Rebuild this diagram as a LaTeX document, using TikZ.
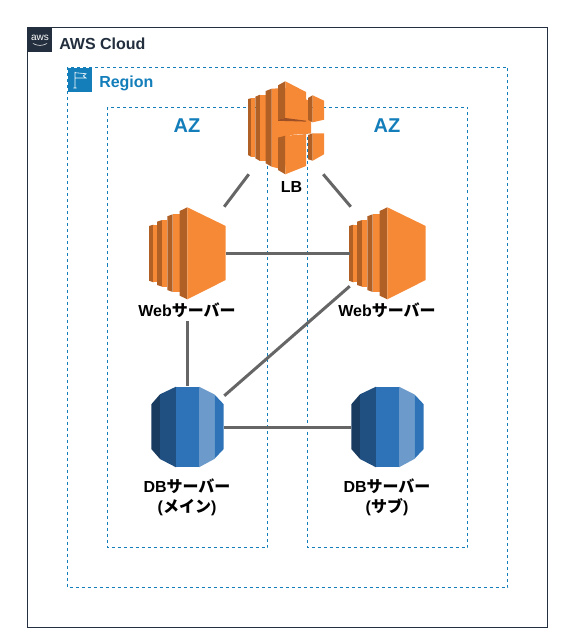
\documentclass[tikz,border=0pt]{standalone}
\usepackage{fontspec}
\setmainfont{Liberation Sans}
\newfontfamily\cjk{Noto Sans CJK JP}
\definecolor{cloudc}{HTML}{232F3E}
\definecolor{regionc}{HTML}{147EBA}
\definecolor{linkc}{HTML}{666666}
\definecolor{ora}{HTML}{F68936}
\definecolor{orad}{HTML}{9D5025}
\definecolor{oram}{HTML}{B05F25}
\definecolor{dba}{HTML}{1A3B60}
\definecolor{dbb}{HTML}{205081}
\definecolor{dbc}{HTML}{2E73B8}
\definecolor{dbd}{HTML}{6C9ACB}
\tikzset{
  x=0.75pt,y=-0.75pt,
  boxdash/.style={draw=regionc,line width=0.75pt,dash pattern=on 2.25pt off 2.25pt},
  link/.style={draw=linkc,line width=2.25pt},
  lab/.style={font=\bfseries\fontsize{12pt}{15pt}\selectfont,align=center,inner sep=0pt,text=black},
  head/.style={font=\bfseries\fontsize{15pt}{18pt}\selectfont,text=regionc,inner sep=0pt},
  port/.style={inner sep=0pt,minimum size=0pt},
}
\newcommand{\ecIcon}[1]{%
  \begin{scope}[shift={(#1,0)}]
    \fill[oram] (149,226) -- (153.3,224.7) -- (153.3,282.3) -- (149,280.7) -- cycle;
    \fill[ora] (153.3,224.7) -- (157,224.7) -- (157,282.3) -- (153.3,282.3) -- cycle;
    \fill[oram] (157,221.7) -- (162.3,220) -- (162.3,286.7) -- (157,285) -- cycle;
    \fill[ora] (162.3,220) -- (167.3,220) -- (167.3,286.7) -- (162.3,286.7) -- cycle;
    \fill[oram] (167.3,216.3) -- (172.7,214.3) -- (172.7,292) -- (167.3,290) -- cycle;
    \fill[ora] (172.7,214.3) -- (179.7,214.3) -- (179.7,292) -- (172.7,292) -- cycle;
    \fill[oram] (179.7,211) -- (187.3,207.3) -- (187.3,299.3) -- (179.7,295.7) -- cycle;
    \fill[ora] (187.3,207.3) -- (225.7,226) -- (225.7,280) -- (187.3,299.3) -- cycle;
  \end{scope}
}
\newcommand{\dbIcon}[1]{%
  \begin{scope}[shift={(#1,0)}]
    \fill[dba] (160,394.3) -- (151.3,404.3) -- (151.3,449) -- (160,459) -- cycle;
    \fill[dbb] (160,394.3) -- (176,386.7) -- (176,467.3) -- (160,459) -- cycle;
    \fill[dbc] (176,386.7) rectangle (199,467.3);
    \fill[dbd] (199,386.7) -- (214.3,394.3) -- (214.3,459) -- (199,467.3) -- cycle;
    \fill[dbc] (214.3,394.3) -- (223.7,404.3) -- (223.7,449) -- (214.3,459) -- cycle;
  \end{scope}
}
\begin{document}
\begin{tikzpicture}
\useasboundingbox (0,0) rectangle (561,641);
% containers
\draw[cloudc,line width=0.75pt] (27.5,27.5) rectangle (547.5,627.5);
\draw[boxdash] (67.5,67.5) rectangle (507.5,587.5);
\draw[boxdash] (107.5,107.5) rectangle (267.5,547.5);
\draw[boxdash] (307.5,107.5) rectangle (467.5,547.5);
% aws badge
\fill[cloudc] (28,28) rectangle (52,52);
\node[inner sep=0pt,text=white,font=\fontsize{7.5pt}{8pt}\selectfont] (awslogo) at (40,37.5) {aws};
\draw[white,line width=0.4pt] (33,43.5) .. controls (37,46) and (43,46) .. (47,43.5);
\node[anchor=west,inner sep=0pt,text=cloudc,font=\bfseries\fontsize{12pt}{14pt}\selectfont] (cloudt) at (59,43.5) {AWS Cloud};
% region badge
\fill[regionc] (68,68) rectangle (92,92);
\draw[white,line width=0.45pt] (75,72) -- (75,88) (73.3,88) -- (76.7,88)
  (75,72.7) -- (86,73.7) -- (83.3,76) -- (86,78) -- (75,78);
\node[anchor=west,inner sep=0pt,text=regionc,font=\bfseries\fontsize{12pt}{14pt}\selectfont] (regiont) at (99,83.5) {Region};
% AZ
\node[head] (azl) at (187,126) {AZ};
\node[head] (azr) at (387,126) {AZ};
% LB icon
\fill[ora] (271.7,88.7) -- (285,88) -- (311,102) -- (311,133.5) -- (290,135) -- (285,170) -- (271.7,166.7) -- cycle;
\fill[oram] (248,99) -- (251,98.3) -- (251,156.7) -- (248,155) -- cycle;
\fill[ora] (251,98.3) -- (255.3,98.3) -- (255.3,156.7) -- (251,156.7) -- cycle;
\fill[oram] (255.3,96.7) -- (260,94.7) -- (260,161) -- (255.3,158.3) -- cycle;
\fill[ora] (260,94.7) -- (265.7,94.7) -- (265.7,161) -- (260,161) -- cycle;
\fill[oram] (265.7,91) -- (271.7,88.7) -- (271.7,166.7) -- (265.7,163.3) -- cycle;
% upper block
\fill[oram] (278,85.3) -- (285.3,81.3) -- (285.3,118) -- (278,119.7) -- cycle;
\fill[ora] (285.3,81.3) -- (306,92) -- (306,120.7) -- (285.3,118) -- cycle;
\fill[orad] (278,119.7) -- (285.3,118) -- (306,120.7) -- (306,121.6) -- (278,120.8) -- cycle;
% upper small block
\fill[oram] (308,98) -- (312.7,95.3) -- (312.7,122.3) -- (308,120) -- cycle;
\fill[ora] (312.7,95.3) -- (324,100.7) -- (324,119.7) -- (312.7,122.3) -- cycle;
% lower block
\fill[orad] (278,137.7) -- (306,134.3) -- (306,135.3) -- (285.3,136.7) -- cycle;
\fill[oram] (278,137.7) -- (285.3,135.7) -- (285.3,174.3) -- (278,170) -- cycle;
\fill[ora] (285.3,135.7) -- (306,134.3) -- (306,166) -- (285.3,174.3) -- cycle;
% lower small block
\fill[oram] (308,135) -- (312.7,133.3) -- (312.7,160.7) -- (308,159.3) -- cycle;
\fill[ora] (312.7,133.3) -- (324,133.3) -- (324,154.3) -- (312.7,160.7) -- cycle;
% server icons
\ecIcon{0}
\ecIcon{200}
\dbIcon{0}
\dbIcon{200}
% named anchors
\node[port] (lbsw) at (249,174) {};
\node[port] (lbse) at (323,174) {};
\node[port] (weblne) at (224,207) {};
\node[port] (webrnw) at (351,207) {};
\node[port] (weble) at (226,253.5) {};
\node[port] (webrw) at (350,253.5) {};
\node[port] (webls) at (187.5,321) {};
\node[port] (webrsw) at (350,286) {};
\node[port] (dbln) at (187.5,386) {};
\node[port] (dblne) at (224,396) {};
\node[port] (dble) at (224,427) {};
\node[port] (dbrw) at (351,427) {};
% connectors
\draw[link] (lbsw) -- (weblne);
\draw[link] (lbse) -- (webrnw);
\draw[link] (weble) -- (webrw);
\draw[link] (webls) -- (dbln);
\draw[link] (webrsw) -- (dblne);
\draw[link] (dble) -- (dbrw);
% labels
\node[lab] (lbt) at (291.5,187) {LB};
\node[lab] (webt1) at (187,310) {Web{\cjk サーバー}};
\node[lab] (webt2) at (387,310) {Web{\cjk サーバー}};
\node[lab] (dbt1) at (187,497.5) {DB{\cjk サーバー}\\({\cjk メイン})};
\node[lab] (dbt2) at (387,497.5) {DB{\cjk サーバー}\\({\cjk サブ})};
\end{tikzpicture}
\end{document}
